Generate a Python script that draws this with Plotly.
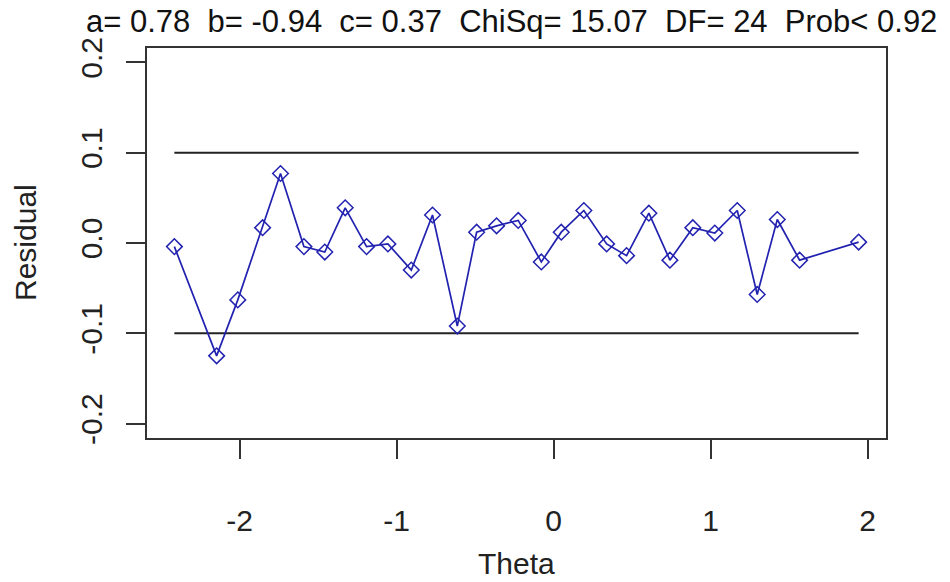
import plotly.graph_objects as go

theta = [-2.415, -2.146, -2.011, -1.853, -1.739, -1.590, -1.457, -1.327, -1.191, -1.055,
         -0.906, -0.771, -0.613, -0.490, -0.363, -0.225, -0.078, 0.049, 0.193, 0.338,
         0.465, 0.607, 0.741, 0.887, 1.027, 1.170, 1.297, 1.425, 1.567, 1.943]
residual = [-0.004, -0.125, -0.063, 0.017, 0.077, -0.004, -0.010, 0.039, -0.004, -0.001,
            -0.030, 0.031, -0.092, 0.012, 0.019, 0.025, -0.021, 0.012, 0.036, -0.001,
            -0.014, 0.033, -0.019, 0.017, 0.011, 0.036, -0.057, 0.026, -0.019, 0.001]
bounds = [0.1, -0.1]
x_ticks = [-2, -1, 0, 1, 2]
x_tick_text = ["-2", "-1", "0", "1", "2"]
y_ticks = [-0.2, -0.1, 0.0, 0.1, 0.2]
y_tick_text = ["-0.2", "-0.1", "0.0", "0.1", "0.2"]
title_text = "a= 0.78  b= -0.94  c= 0.37  ChiSq= 15.07  DF= 24  Prob< 0.92"

FONT = "Liberation Sans, Arial, sans-serif"
FS = 30
fig = go.Figure()
xmin, xmax = min(theta), max(theta)
for b in bounds:
    fig.add_trace(go.Scatter(x=[xmin, xmax], y=[b, b], mode="lines",
                             line=dict(color="#222222", width=2), hoverinfo="skip"))
fig.add_trace(go.Scatter(x=theta, y=residual, mode="lines+markers",
                         line=dict(color="#2222b0", width=1.7),
                         marker=dict(symbol="diamond-open", size=12,
                                     line=dict(color="#2222b0", width=1.5))))

span = xmax - xmin
fig.update_layout(
    width=950, height=582,
    margin=dict(l=147, r=64, t=48, b=144, pad=0),
    paper_bgcolor="white", plot_bgcolor="white",
    showlegend=False,
    font=dict(family=FONT, size=FS, color="#222222"),
    xaxis=dict(range=[xmin - 0.04 * span, xmax + 0.04 * span], tickvals=x_ticks,
               ticktext=x_tick_text,
               ticks="outside", ticklen=19, tickwidth=2, tickcolor="#333333",
               showline=True, mirror=True, linecolor="#333333", linewidth=2,
               showgrid=False, zeroline=False, ticklabelstandoff=36,
               tickfont=dict(size=FS, color="#222222")),
    yaxis=dict(range=[-0.216, 0.216], tickvals=y_ticks, ticktext=y_tick_text,
               ticks="outside", ticklen=19, tickwidth=2, tickcolor="#333333",
               showline=True, mirror=True, linecolor="#333333", linewidth=2,
               showgrid=False, zeroline=False, tickangle=-90, ticklabelstandoff=12,
               tickfont=dict(size=FS, color="#222222")),
    annotations=[
        dict(text=title_text, xref="paper", yref="paper", x=0.4926, y=1.0667,
             showarrow=False, xanchor="center", yanchor="middle",
             font=dict(size=31, color="#111111", family=FONT)),
        dict(text="Theta", xref="paper", yref="paper", x=0.5, y=(438 - 563) / 390,
             showarrow=False, xanchor="center", yanchor="middle",
             font=dict(size=FS, color="#222222", family=FONT)),
        dict(text="Residual", xref="paper", yref="paper", x=(25 - 147) / 739, y=0.5,
             showarrow=False, xanchor="center", yanchor="middle", textangle=-90,
             font=dict(size=FS, color="#222222", family=FONT)),
    ],
)
fig.write_html("out.html")
